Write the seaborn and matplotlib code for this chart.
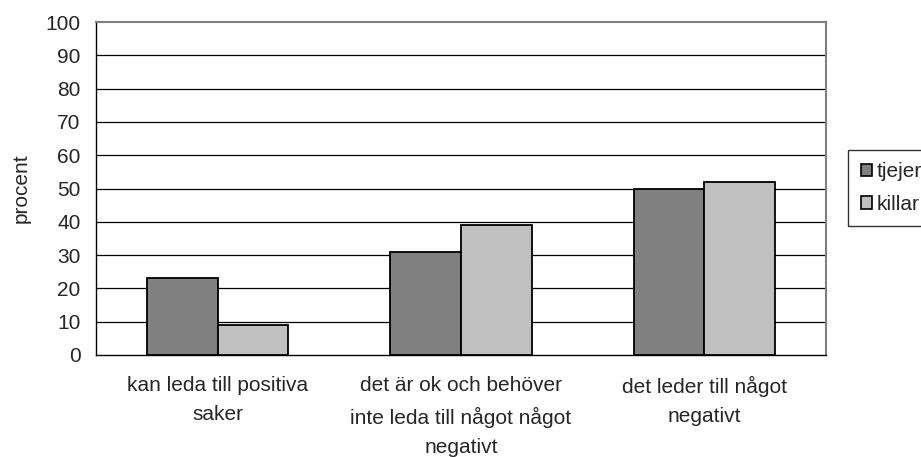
import numpy as np
import pandas as pd
import matplotlib
matplotlib.use("Agg")
import matplotlib.pyplot as plt
import seaborn as sns

categories = ["kan leda till positiva\nsaker",
              "det är ok och behöver\ninte leda till något något\nnegativt",
              "det leder till något\nnegativt"]
groups = ["tjejer", "killar"]
tjejer = [23, 31, 50]
killar = [9, 39, 52]
colors = ["#808080", "#C0C0C0"]
yticks = list(range(0, 101, 10))

sns.set_style("white")
plt.rcParams["font.family"] = ["Liberation Sans", "DejaVu Sans"]
plt.rcParams["font.size"] = 15

df = pd.DataFrame({
    "kategori": categories * 2,
    "grupp": [groups[0]] * 3 + [groups[1]] * 3,
    "procent": tjejer + killar,
})

fig = plt.figure(figsize=(9.21, 4.57), dpi=100)
ax = fig.add_axes([96 / 921, 102 / 457, 730 / 921, 333 / 457])

sns.barplot(data=df, x="kategori", y="procent", hue="grupp", order=categories,
            hue_order=groups, palette=colors, width=0.58, edgecolor="black",
            linewidth=1.3, saturation=1, ax=ax, legend=True, zorder=3)

ax.set_ylim(0, 100)
ax.set_xlim(-0.5, 2.5)
ax.set_yticks(yticks)
ax.set_yticklabels([str(t) for t in yticks])
for t in yticks[1:-1]:
    ax.axhline(t, color="black", lw=0.9, zorder=1)

ax.set_xlabel("")
ax.set_ylabel("procent", fontsize=15)
ax.yaxis.set_label_coords(-0.09, 0.5)

ax.set_xticks(range(3))
ax.set_xticklabels(categories, linespacing=1.7)
ax.set_xticks([-0.5, 0.5, 1.5, 2.5], minor=True)
ax.tick_params(axis="x", which="major", length=0, pad=15, labelsize=15)
ax.tick_params(axis="x", which="minor", length=5, width=1, direction="out", color="black")
ax.tick_params(axis="y", length=5, width=1, direction="out", color="black", pad=6, labelsize=15)

for side in ["left", "bottom"]:
    ax.spines[side].set_color("black")
    ax.spines[side].set_linewidth(1)
for side in ["top", "right"]:
    ax.spines[side].set_color("#808080")
    ax.spines[side].set_linewidth(1.5)
    ax.spines[side].set_visible(True)

ax.get_legend().remove()
handles = [plt.Rectangle((0, 0), 1, 1, facecolor=c, edgecolor="black", lw=1.2) for c in colors]
leg = fig.legend(handles, groups, loc="upper left",
                 bbox_to_anchor=(848 / 921, 1 - 149.7 / 457), fontsize=15,
                 frameon=True, fancybox=False, handlelength=0.55, handleheight=0.55,
                 handletextpad=0.2, labelspacing=0.65, borderpad=0.6,
                 borderaxespad=0)
leg.get_frame().set_edgecolor("black")
leg.get_frame().set_linewidth(1)

fig.savefig("out.png", dpi=100)
